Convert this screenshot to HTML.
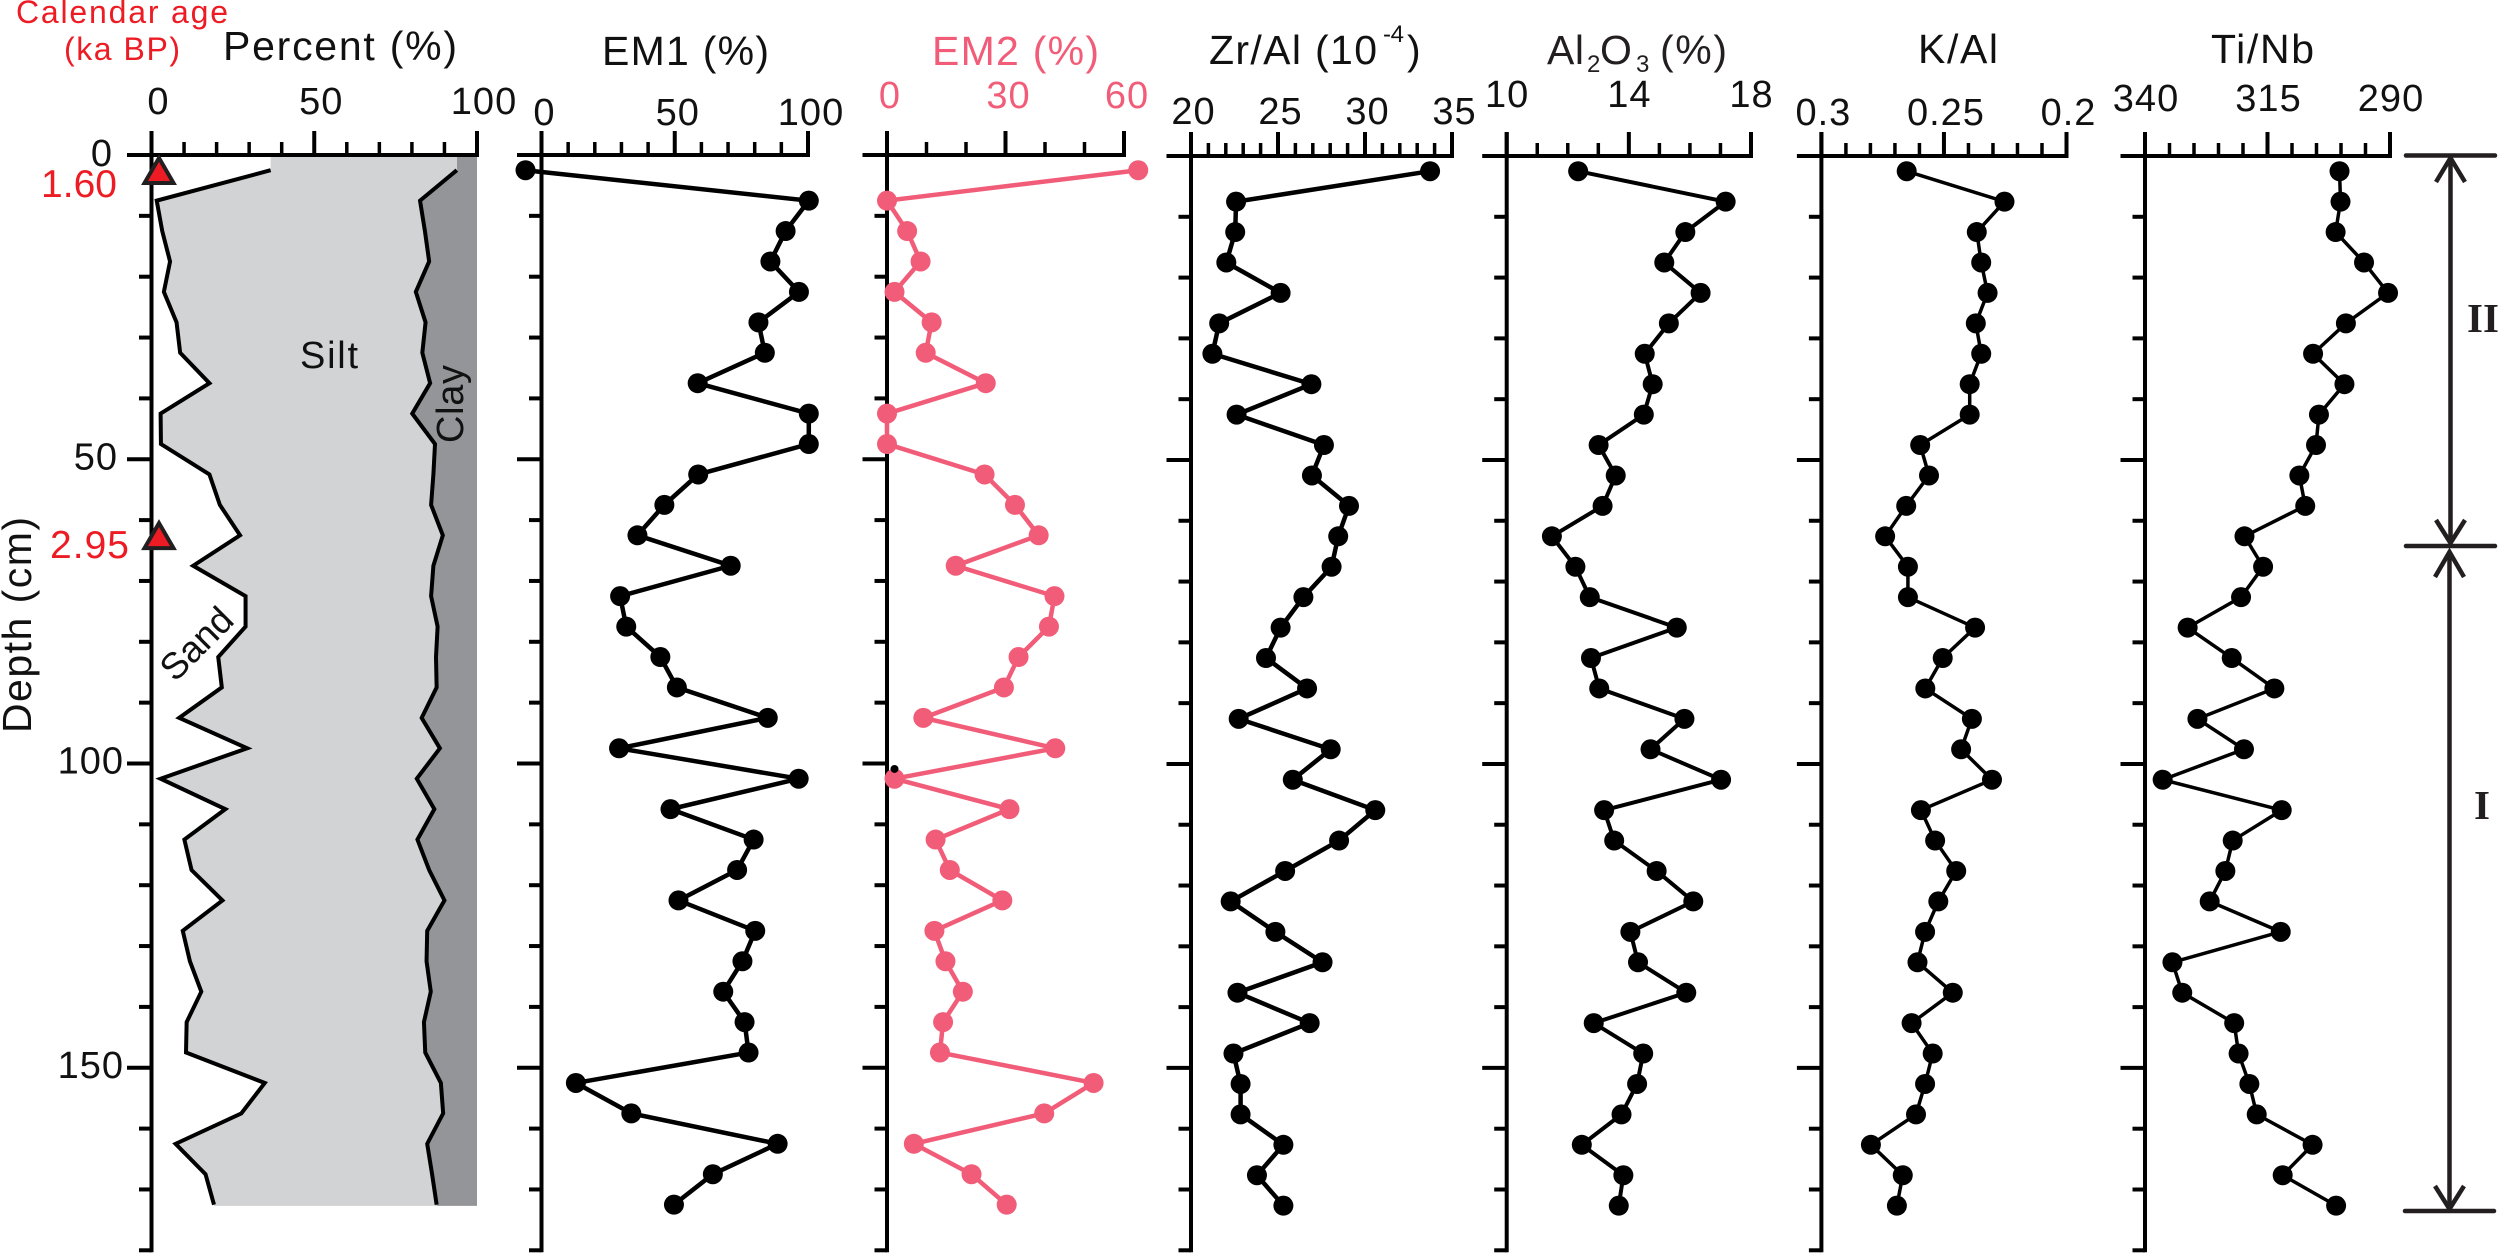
<!DOCTYPE html>
<html lang="en">
<head>
<meta charset="utf-8">
<title>Sediment core proxy records by depth</title>
<style>
html,body{margin:0;padding:0;background:#fff;}
svg{display:block;font-family:"Liberation Sans",Arial,sans-serif;}
</style>
</head>
<body>
<svg id="chart" xmlns="http://www.w3.org/2000/svg" width="2500" height="1254" viewBox="0 0 2500 1254">
  <rect x="0" y="0" width="2500" height="1254" fill="#ffffff"/>
  <g id="plots"></g>

  <g fill="#ed1c24" font-size="32">
    <text x="16" y="23" textLength="212" lengthAdjust="spacing">Calendar age</text>
    <text x="64" y="60" textLength="116" lengthAdjust="spacing">(ka BP)</text>
  </g>
  <text transform="translate(31 733) rotate(-90)" font-size="41" fill="#111" textLength="216" lengthAdjust="spacing">Depth (cm)</text>

  <g font-size="41" fill="#111">
    <text x="223" y="60" textLength="234" lengthAdjust="spacing">Percent (%)</text>
    <text x="602" y="65" textLength="167" lengthAdjust="spacing">EM1 (%)</text>
    <text x="932" y="65" fill="#f15d78" textLength="167" lengthAdjust="spacing">EM2 (%)</text>
    <g>
      <text x="1209" y="64" textLength="168" lengthAdjust="spacing">Zr/Al (10</text>
      <text x="1383" y="42" font-size="24" textLength="21" lengthAdjust="spacing">-4</text>
      <text x="1407" y="64">)</text>
    </g>
    <g fill="#231f20">
      <text x="1547" y="64" textLength="37" lengthAdjust="spacing">Al</text>
      <text x="1587" y="72" font-size="24">2</text>
      <text x="1600" y="64">O</text>
      <text x="1636" y="72" font-size="24">3</text>
      <text x="1660" y="64" textLength="67" lengthAdjust="spacing">(%)</text>
    </g>
    <text x="1918" y="63" textLength="80" lengthAdjust="spacing">K/Al</text>
    <text x="2211" y="63" textLength="103" lengthAdjust="spacing">Ti/Nb</text>
  </g>

  <g fill="#ed1c24" font-size="39">
    <text x="41" y="197" textLength="76" lengthAdjust="spacing">1.60</text>
    <text x="50" y="558" textLength="79" lengthAdjust="spacing">2.95</text>
  </g>

  <g font-size="38" fill="#111">
    <text x="300" y="368" textLength="58" lengthAdjust="spacing">Silt</text>
    <text transform="translate(463 443) rotate(-90)" textLength="78" lengthAdjust="spacing">Clay</text>
    <text transform="translate(175 683) rotate(-45)" font-size="37" textLength="86" lengthAdjust="spacing">Sand</text>
  </g>

  <g stroke="#231f20" fill="none" stroke-width="4.5">
    <line x1="2406" y1="155.5" x2="2495" y2="155.5" stroke-linecap="round"/>
    <line x1="2406" y1="546" x2="2495" y2="546" stroke-linecap="round"/>
    <line x1="2405" y1="1211" x2="2494" y2="1211" stroke-linecap="round"/>
    <line x1="2450.5" y1="159" x2="2450.5" y2="542"/>
    <polyline points="2436,182 2450.5,158 2465,182"/>
    <polyline points="2436,520 2450.5,543 2465,520"/>
    <line x1="2449.5" y1="553" x2="2449.5" y2="1208"/>
    <polyline points="2435,577 2449.5,552 2464,577"/>
    <polyline points="2435,1186 2449.5,1209 2464,1186"/>
  </g>
  <g font-family="'Liberation Serif',serif" font-weight="bold" font-size="41" fill="#231f20">
    <text x="2467" y="332">II</text>
    <text x="2474" y="819">I</text>
  </g>
</svg>

<script>
// ---------- sample depths (cm) ----------
const depths = [2.5,7.5,12.5,17.5,22.5,27.5,32.5,37.5,42.5,47.5,52.5,57.5,62.5,67.5,72.5,77.5,82.5,87.5,92.5,97.5,102.5,107.5,112.5,117.5,122.5,127.5,132.5,137.5,142.5,147.5,152.5,157.5,162.5,167.5,172.5];

// ---------- series values ----------
const sandPercent = [36.6,1.6,3.3,5.7,3.8,7.7,8.8,17.8,2.8,2.9,17.8,21,27.2,12.8,28.9,28.9,20.5,21.6,8.5,29.4,2.8,22.7,10.1,12.3,21.8,9.6,11.8,15.3,10.8,10.6,34.8,27.6,7.4,16.6,19.2];
const sandSiltPercent = [93.8,82.5,84,85.3,81.2,84.2,83.2,85.6,80.1,87.1,86.6,85.9,89.5,86.6,85.9,87.9,87.4,87.6,83,88.6,81.5,86.9,81.7,85.3,90,84.7,84.5,85.8,83.7,84.1,88.9,89.6,84.7,86.2,87.6];
const em1 = [-6,100.3,91.6,85.9,96.6,81.4,83.8,58.6,100.3,100.3,58.8,46.1,36,71,29.5,31.8,44.6,50.8,84.9,29.1,96.5,48.4,79.6,73.4,51.4,80.2,75.4,68.2,76.2,77.7,12.9,33.7,88.6,64.3,49.7];
const em2 = [63.6,0,5.1,8.5,1.9,11.3,9.8,25,0,0,24.7,32.4,38.4,17.4,42.4,41,33.3,29.6,9.2,42.6,1.9,31,12.3,15.9,29.2,12,14.8,19.2,14.2,13.4,52.3,39.8,6.8,21.4,30.3];
const zrAl = [33.74,22.59,22.54,22.03,25.15,21.62,21.23,26.92,22.62,27.64,26.95,29.08,28.46,28.08,26.46,25.15,24.31,26.67,22.74,28.03,25.85,30.59,28.51,25.41,22.28,24.85,27.56,22.67,26.82,22.44,22.85,22.85,25.31,23.79,25.31];
const al2o3 = [12.34,17.17,15.85,15.16,16.35,15.31,14.52,14.78,14.49,13.01,13.57,13.14,11.48,12.25,12.72,15.57,12.76,13.03,15.82,14.71,17.02,13.19,13.52,14.91,16.11,14.05,14.3,15.88,12.85,14.47,14.27,13.76,12.46,13.82,13.67];
const kAl = [0.2652,0.2253,0.2366,0.2348,0.2322,0.237,0.2348,0.2395,0.2395,0.2597,0.2561,0.2654,0.274,0.2647,0.2647,0.2373,0.2505,0.2576,0.2386,0.243,0.2304,0.2594,0.2536,0.245,0.2523,0.2577,0.2608,0.2464,0.2632,0.2546,0.2577,0.2614,0.2798,0.2668,0.2692];
const tiNb = [300.3,300.1,301.1,295.3,290.4,299,305.7,299.3,304.5,305.1,308.5,307.3,319.7,315.9,320.4,331.3,322.3,313.6,329.3,319.8,336.4,312.1,322.1,323.6,326.8,312.3,334.4,332.4,321.8,320.9,318.7,317.2,305.8,311.9,301];

// ---------- dated horizons (depth, cm) ----------
const ageDepths = [0, 60];

// ---------- depth axis ----------
const depthTicks = [0,10,20,30,40,50,60,70,80,90,100,110,120,130,140,150,160,170,180];
const depthMajorTicks = [0,50,100,150];
const depthTickLabels = ["0","50","100","150"];

// ---------- x-axis ticks ----------
const percentMajor = [0,50,100];
const percentMinor = [10,20,30,40,60,70,80,90];
const percentLabels = ["0","50","100"];
const em1Major = [0,50,100];
const em1Minor = [10,20,30,40,60,70,80,90];
const em1Labels = ["0","50","100"];
const em2Major = [0,30,60];
const em2Minor = [10,20,40,50];
const em2Labels = ["0","30","60"];
const zrMajor = [20,25,30,35];
const zrMinor = [21,22,23,24,26,27,28,29,31,32,33,34];
const zrLabels = ["20","25","30","35"];
const alMajor = [10,14,18];
const alMinor = [11,12,13,15,16,17];
const alLabels = ["10","14","18"];
const kMajor = [0.3,0.25,0.2];
const kMinor = [0.29,0.28,0.27,0.26,0.24,0.23,0.22,0.21];
const kLabels = ["0.3","0.25","0.2"];
const tiMajor = [340,315,290];
const tiMinor = [335,330,325,320,310,305,300,295];
const tiLabels = ["340","315","290"];

// ---------- axis functions ----------
const NS = "http://www.w3.org/2000/svg";
const plots = document.getElementById("plots");
const yBase = 155, yPerCm = 6.085;
function yScale(depth, off) { return yBase + (off || 0) + depth * yPerCm; }
function linear(d0, d1, r0, r1) { return function (v) { return r0 + (v - d0) / (d1 - d0) * (r1 - r0); }; }
function fmt(n) { return Math.round(n * 100) / 100; }

function make(tag, parent) {
  const el = document.createElementNS(NS, tag);
  parent.appendChild(el);
  return el;
}
function setLine(el, x1, y1, x2, y2, width, color) {
  el.setAttribute("x1", x1);
  el.setAttribute("y1", y1);
  el.setAttribute("x2", x2);
  el.setAttribute("y2", y2);
  el.setAttribute("stroke", color);
  el.setAttribute("stroke-width", width);
}

function drawAxes(p, x, parent) {
  const g = make("g", parent);
  
  
  const y0 = yScale(0, p.off);
  const yEnd = yScale(180, 0);

  const xAxis = make("line", g);
  
  
  setLine(xAxis, p.r0 - 24.5, y0, Math.max(p.r0, p.r1) + 2, y0, 4, "#000");

  const yAxis = make("line", g);
  
  
  setLine(yAxis, p.r0, y0 - 24, p.r0, yEnd + 2, 4, "#000");

  p.major.forEach(function (v, i) {
    const t = make("line", g);
    
    
    setLine(t, x(v), y0 - 24, x(v), y0, 4, "#000");

    const lab = make("text", g);
    
    
    lab.setAttribute("x", fmt(x(v) + p.labelDx));
    lab.setAttribute("y", p.labelY);
    lab.setAttribute("text-anchor", "middle");
    lab.setAttribute("font-size", "38");
    lab.setAttribute("letter-spacing", "1");
    lab.setAttribute("fill", p.labelColor);
    lab.textContent = p.labels[i];
  });
  p.minor.forEach(function (v) {
    const t = make("line", g);
    
    
    setLine(t, x(v), y0 - 13, x(v), y0, 3.5, "#000");
  });
  depthTicks.forEach(function (d) {
    if (d === 0) return;
    const isMajor = depthMajorTicks.indexOf(d) >= 0;
    const t = make("line", g);
    
    
    const y = yScale(d, p.off * (1 - d / 180));
    setLine(t, p.r0 - (isMajor ? 24.5 : 12.5), y, p.r0, y, 4, "#000");
  });
}

function drawSeries(p, x, parent) {
  const g = make("g", parent);
  
  

  const line = make("polyline", g);
  
  
  line.setAttribute("points", p.values.map(function (v, i) {
    return fmt(x(v)) + "," + fmt(yScale(depths[i], p.off));
  }).join(" "));
  line.setAttribute("fill", "none");
  line.setAttribute("stroke", p.color);
  line.setAttribute("stroke-width", p.lineWidth);
  line.setAttribute("stroke-linejoin", "miter");

  p.values.forEach(function (v, i) {
    const dot = make("circle", g);
    
    
    dot.setAttribute("cx", fmt(x(v)));
    dot.setAttribute("cy", fmt(yScale(depths[i], p.off)));
    dot.setAttribute("r", "10");
    dot.setAttribute("fill", p.color);
  });
}

// ---------- grain-size panel ----------
(function drawGrainSize() {
  const p = { key: "grain-size", r0: 151.5, r1: 477, off: 0, major: percentMajor, minor: percentMinor, labels: percentLabels, labelDx: 7, labelY: 114, labelColor: "#111" };
  const x = linear(0, 100, p.r0, p.r1);
  const g = make("g", plots);
  
  

  const topDepth = 0.3, bottomDepth = 172.7;
  const sandPts = sandPercent.map(function (v, i) { return fmt(x(v)) + "," + fmt(yScale(depths[i])); });
  const bsPts = sandSiltPercent.map(function (v, i) { return fmt(x(v)) + "," + fmt(yScale(depths[i])); });
  const last = depths.length - 1;

  const clay = make("polygon", g);
  
  
  clay.setAttribute("points", [fmt(x(sandSiltPercent[0])) + "," + fmt(yScale(topDepth))].concat(bsPts,
    [fmt(x(sandSiltPercent[last])) + "," + fmt(yScale(bottomDepth)),
     fmt(x(100)) + "," + fmt(yScale(bottomDepth)),
     fmt(x(100)) + "," + fmt(yScale(topDepth))]).join(" "));
  clay.setAttribute("fill", "#939598");

  const silt = make("polygon", g);
  
  
  silt.setAttribute("points", [fmt(x(sandPercent[0])) + "," + fmt(yScale(topDepth))].concat(sandPts,
    [fmt(x(sandPercent[last])) + "," + fmt(yScale(bottomDepth)),
     fmt(x(sandSiltPercent[last])) + "," + fmt(yScale(bottomDepth))],
    bsPts.slice().reverse(),
    [fmt(x(sandSiltPercent[0])) + "," + fmt(yScale(topDepth))]).join(" "));
  silt.setAttribute("fill", "#d1d3d4");

  const sandLine = make("polyline", g);
  
  
  sandLine.setAttribute("points", sandPts.join(" "));
  sandLine.setAttribute("fill", "none");
  sandLine.setAttribute("stroke", "#000");
  sandLine.setAttribute("stroke-width", "4");

  const clayLine = make("polyline", g);
  
  
  clayLine.setAttribute("points", bsPts.join(" "));
  clayLine.setAttribute("fill", "none");
  clayLine.setAttribute("stroke", "#000");
  clayLine.setAttribute("stroke-width", "4");

  drawAxes(p, x, g);

  depthMajorTicks.forEach(function (d, i) {
    const lab = make("text", g);
    
    
    lab.setAttribute("x", "124");
    lab.setAttribute("y", fmt(yScale(d) + (d === 0 ? 11 : 10)));
    lab.setAttribute("text-anchor", "end");
    lab.setAttribute("font-size", "38");
    lab.setAttribute("letter-spacing", "1");
    lab.setAttribute("fill", "#111");
    if (d === 0) lab.setAttribute("x", "113");
    if (d === 50) lab.setAttribute("x", "118");
    lab.textContent = depthTickLabels[i];
  });

  ageDepths.forEach(function (d) {
    const tri = make("polygon", g);
    
    
    const cy = yScale(d);
    const cx = p.r0 + 7.5;
    tri.setAttribute("points", cx + "," + fmt(cy + 3) + " " + (cx - 14.5) + "," + fmt(cy + 28) + " " + (cx + 14.5) + "," + fmt(cy + 28));
    tri.setAttribute("fill", "#ed1c24");
    tri.setAttribute("stroke", "#231f20");
    tri.setAttribute("stroke-width", "4");
  });
})();

// ---------- scatter-line panels ----------
function drawProxy(p) {
  const x = linear(p.d0, p.d1, p.r0, p.r1);
  const g = make("g", plots);
  
  
  drawAxes(p, x, g);
  drawSeries(p, x, g);
  return x;
}

drawProxy({ key: "em1", values: em1, d0: 0, d1: 100, r0: 541.5, r1: 808, off: 0, major: em1Major, minor: em1Minor, labels: em1Labels, labelDx: 3, labelY: 125, labelColor: "#111", color: "#000", lineWidth: 4.5 });
const em2X = drawProxy({ key: "em2", values: em2, d0: 0, d1: 60, r0: 887, r1: 1124, off: 0, major: em2Major, minor: em2Minor, labels: em2Labels, labelDx: 3, labelY: 108, labelColor: "#f15d78", color: "#f15d78", lineWidth: 4.5 });
drawProxy({ key: "zr-al", values: zrAl, d0: 20, d1: 35, r0: 1191, r1: 1452, off: 1, major: zrMajor, minor: zrMinor, labels: zrLabels, labelDx: 2.5, labelY: 124, labelColor: "#111", color: "#000", lineWidth: 4.5 });
drawProxy({ key: "al2o3", values: al2o3, d0: 10, d1: 18, r0: 1506.7, r1: 1751, off: 1, major: alMajor, minor: alMinor, labels: alLabels, labelDx: 0.5, labelY: 107, labelColor: "#111", color: "#000", lineWidth: 4 });
drawProxy({ key: "k-al", values: kAl, d0: 0.3, d1: 0.2, r0: 1821.4, r1: 2066.5, off: 1, major: kMajor, minor: kMinor, labels: kLabels, labelDx: 2, labelY: 125, labelColor: "#111", color: "#000", lineWidth: 3.5 });
drawProxy({ key: "ti-nb", values: tiNb, d0: 340, d1: 290, r0: 2145, r1: 2390, off: 1, major: tiMajor, minor: tiMinor, labels: tiLabels, labelDx: 1, labelY: 111, labelColor: "#111", color: "#000", lineWidth: 3.5 });

// small stray black dot printed on the EM2 series near 101 cm
const strayDot = make("ellipse", plots);


strayDot.setAttribute("cx", fmt(em2X(1.9)));
strayDot.setAttribute("cy", fmt(yScale(100.9)));
strayDot.setAttribute("rx", "4");
strayDot.setAttribute("ry", "4");
strayDot.setAttribute("fill", "#000");
</script>
</body>
</html>
